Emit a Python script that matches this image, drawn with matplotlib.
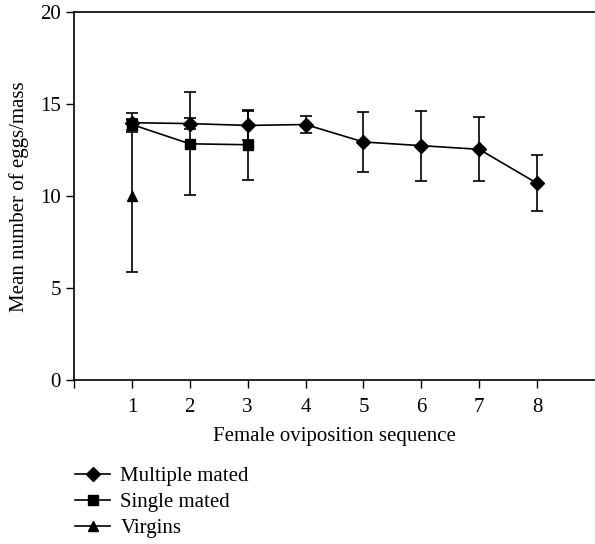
import matplotlib
matplotlib.use("Agg")
import matplotlib.pyplot as plt

plt.rcParams["font.family"] = ["Liberation Serif", "DejaVu Serif"]
plt.rcParams["font.size"] = 15

sequence = [1, 2, 3, 4, 5, 6, 7, 8]

multiple_mean = [14.0, 13.95, 13.85, 13.9, 12.95, 12.75, 12.55, 10.7]
multiple_err = [0.5, 0.3, 0.8, 0.45, 1.65, 1.9, 1.75, 1.53]

single_x = [1, 2, 3]
single_mean = [13.9, 12.85, 12.8]
single_err = [0.3, 2.8, 1.9]

virgin_x = [1]
virgin_mean = [10.0]
virgin_err = [4.15]


def draw_series(ax, x, y, err, marker, ms, label):
    ax.errorbar(x, y, yerr=err, color="black", marker=marker, markersize=ms,
                linewidth=1.2, elinewidth=1.2, capsize=4, capthick=1.2,
                label=label)


fig = plt.figure(figsize=(5.95, 5.44), dpi=100)
ax = fig.add_axes([0.1244, 0.3015, 0.8756, 0.6757])

draw_series(ax, sequence, multiple_mean, multiple_err, "D", 7.5, "Multiple mated")
draw_series(ax, single_x, single_mean, single_err, "s", 6.5, "Single mated")
draw_series(ax, virgin_x, virgin_mean, virgin_err, "^", 7, "Virgins")

ax.set_xlim(0, 9)
ax.set_ylim(0, 20)
ax.set_xticks(range(0, 9))
ax.set_xticklabels([""] + [str(s) for s in sequence])
ax.set_yticks([0, 5, 10, 15, 20])
ax.tick_params(direction="out", length=6, width=1, colors="black")
ax.tick_params(axis="x", pad=7)
ax.tick_params(axis="y", pad=3.5)
ax.spines["right"].set_visible(False)
for s in ["left", "bottom", "top"]:
    ax.spines[s].set_linewidth(1.2)

ax.set_xlabel("Female oviposition sequence", labelpad=7)
ax.set_ylabel("Mean number of eggs/mass", labelpad=8)

handles, labels = ax.get_legend_handles_labels()
handles = [h[0] for h in handles]
fig.legend(handles, labels, loc="upper left", bbox_to_anchor=(0.126, 0.142),
           frameon=False, handlelength=1.7, handletextpad=0.48,
           labelspacing=0.3, borderaxespad=0, borderpad=0)

fig.savefig("out.png", dpi=100)
